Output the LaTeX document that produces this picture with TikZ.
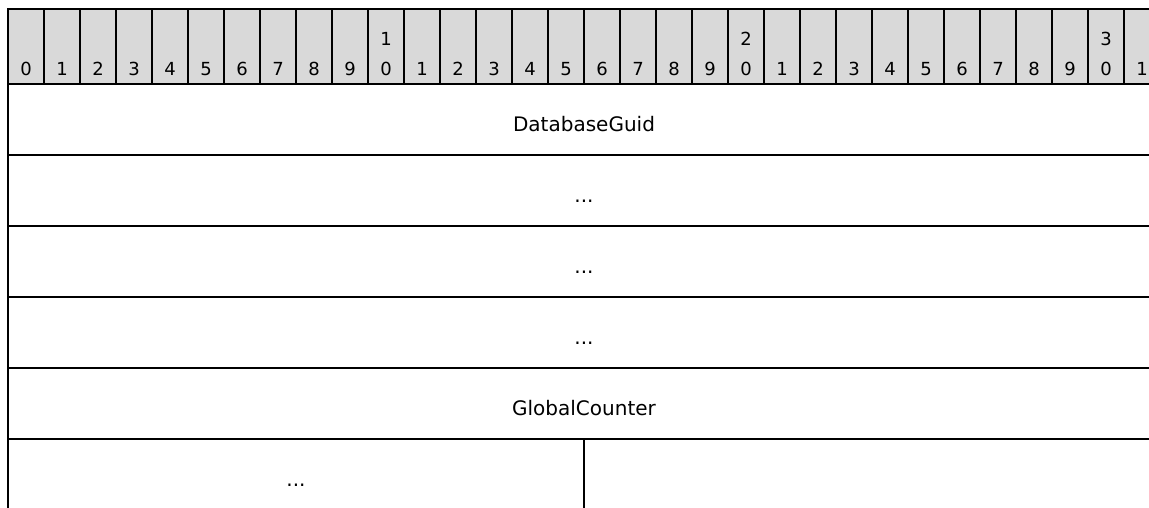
\documentclass[tikz,border=0pt]{standalone}
\usepackage{fontspec}
\setmainfont{DejaVu Sans}
\usepackage{xcolor}
\usetikzlibrary{positioning}
\definecolor{hdrgray}{HTML}{D9D9D9}
\tikzset{
  bitcell/.style={draw=black, fill=hdrgray, line width=1.8pt, shape=rectangle, inner sep=0pt, minimum width=36pt, minimum height=75pt},
  bitnum/.style={anchor=south, inner sep=0pt, yshift=9pt, align=center, font=\fontsize{18}{30}\selectfont},
  fieldbox/.style={draw=black, fill=white, line width=1.8pt, shape=rectangle, inner sep=0pt, minimum height=71pt, text height=24pt, text depth=0pt, font=\fontsize{20}{24}\selectfont},
  wordfield/.style={fieldbox, minimum width=1152pt},
  halffield/.style={fieldbox, minimum width=576pt}
}

\begin{document}
\begin{tikzpicture}[x=1pt, y=1pt]
	\clip (0, 0) rectangle (1149, -508);
	% bit numbers
	\node [bitcell, label={[bitnum]south:0}] (b0) at (26, -46.5) {};
	\node [bitcell, label={[bitnum]south:1}] (b1) at (62, -46.5) {};
	\node [bitcell, label={[bitnum]south:2}] (b2) at (98, -46.5) {};
	\node [bitcell, label={[bitnum]south:3}] (b3) at (134, -46.5) {};
	\node [bitcell, label={[bitnum]south:4}] (b4) at (170, -46.5) {};
	\node [bitcell, label={[bitnum]south:5}] (b5) at (206, -46.5) {};
	\node [bitcell, label={[bitnum]south:6}] (b6) at (242, -46.5) {};
	\node [bitcell, label={[bitnum]south:7}] (b7) at (278, -46.5) {};
	\node [bitcell, label={[bitnum]south:8}] (b8) at (314, -46.5) {};
	\node [bitcell, label={[bitnum]south:9}] (b9) at (350, -46.5) {};
	\node [bitcell, label={[bitnum]south:1\\0}] (b10) at (386, -46.5) {};
	\node [bitcell, label={[bitnum]south:1}] (b11) at (422, -46.5) {};
	\node [bitcell, label={[bitnum]south:2}] (b12) at (458, -46.5) {};
	\node [bitcell, label={[bitnum]south:3}] (b13) at (494, -46.5) {};
	\node [bitcell, label={[bitnum]south:4}] (b14) at (530, -46.5) {};
	\node [bitcell, label={[bitnum]south:5}] (b15) at (566, -46.5) {};
	\node [bitcell, label={[bitnum]south:6}] (b16) at (602, -46.5) {};
	\node [bitcell, label={[bitnum]south:7}] (b17) at (638, -46.5) {};
	\node [bitcell, label={[bitnum]south:8}] (b18) at (674, -46.5) {};
	\node [bitcell, label={[bitnum]south:9}] (b19) at (710, -46.5) {};
	\node [bitcell, label={[bitnum]south:2\\0}] (b20) at (746, -46.5) {};
	\node [bitcell, label={[bitnum]south:1}] (b21) at (782, -46.5) {};
	\node [bitcell, label={[bitnum]south:2}] (b22) at (818, -46.5) {};
	\node [bitcell, label={[bitnum]south:3}] (b23) at (854, -46.5) {};
	\node [bitcell, label={[bitnum]south:4}] (b24) at (890, -46.5) {};
	\node [bitcell, label={[bitnum]south:5}] (b25) at (926, -46.5) {};
	\node [bitcell, label={[bitnum]south:6}] (b26) at (962, -46.5) {};
	\node [bitcell, label={[bitnum]south:7}] (b27) at (998, -46.5) {};
	\node [bitcell, label={[bitnum]south:8}] (b28) at (1034, -46.5) {};
	\node [bitcell, label={[bitnum]south:9}] (b29) at (1070, -46.5) {};
	\node [bitcell, label={[bitnum]south:3\\0}] (b30) at (1106, -46.5) {};
	\node [bitcell, label={[bitnum]south:1}] (b31) at (1142, -46.5) {};
	% fields
	\node [wordfield] (guid) at (584, -119.5) {DatabaseGuid};
	\node [wordfield] (gap1) at (584, -190.5) {...};
	\node [wordfield] (gap2) at (584, -261.5) {...};
	\node [wordfield] (gap3) at (584, -332.5) {...};
	\node [wordfield] (counter) at (584, -403.5) {GlobalCounter};
	\node [halffield] (gap4) at (296, -474.5) {...};
	\node [halffield] (rest) at (872, -474.5) {};
\end{tikzpicture}
\end{document}
